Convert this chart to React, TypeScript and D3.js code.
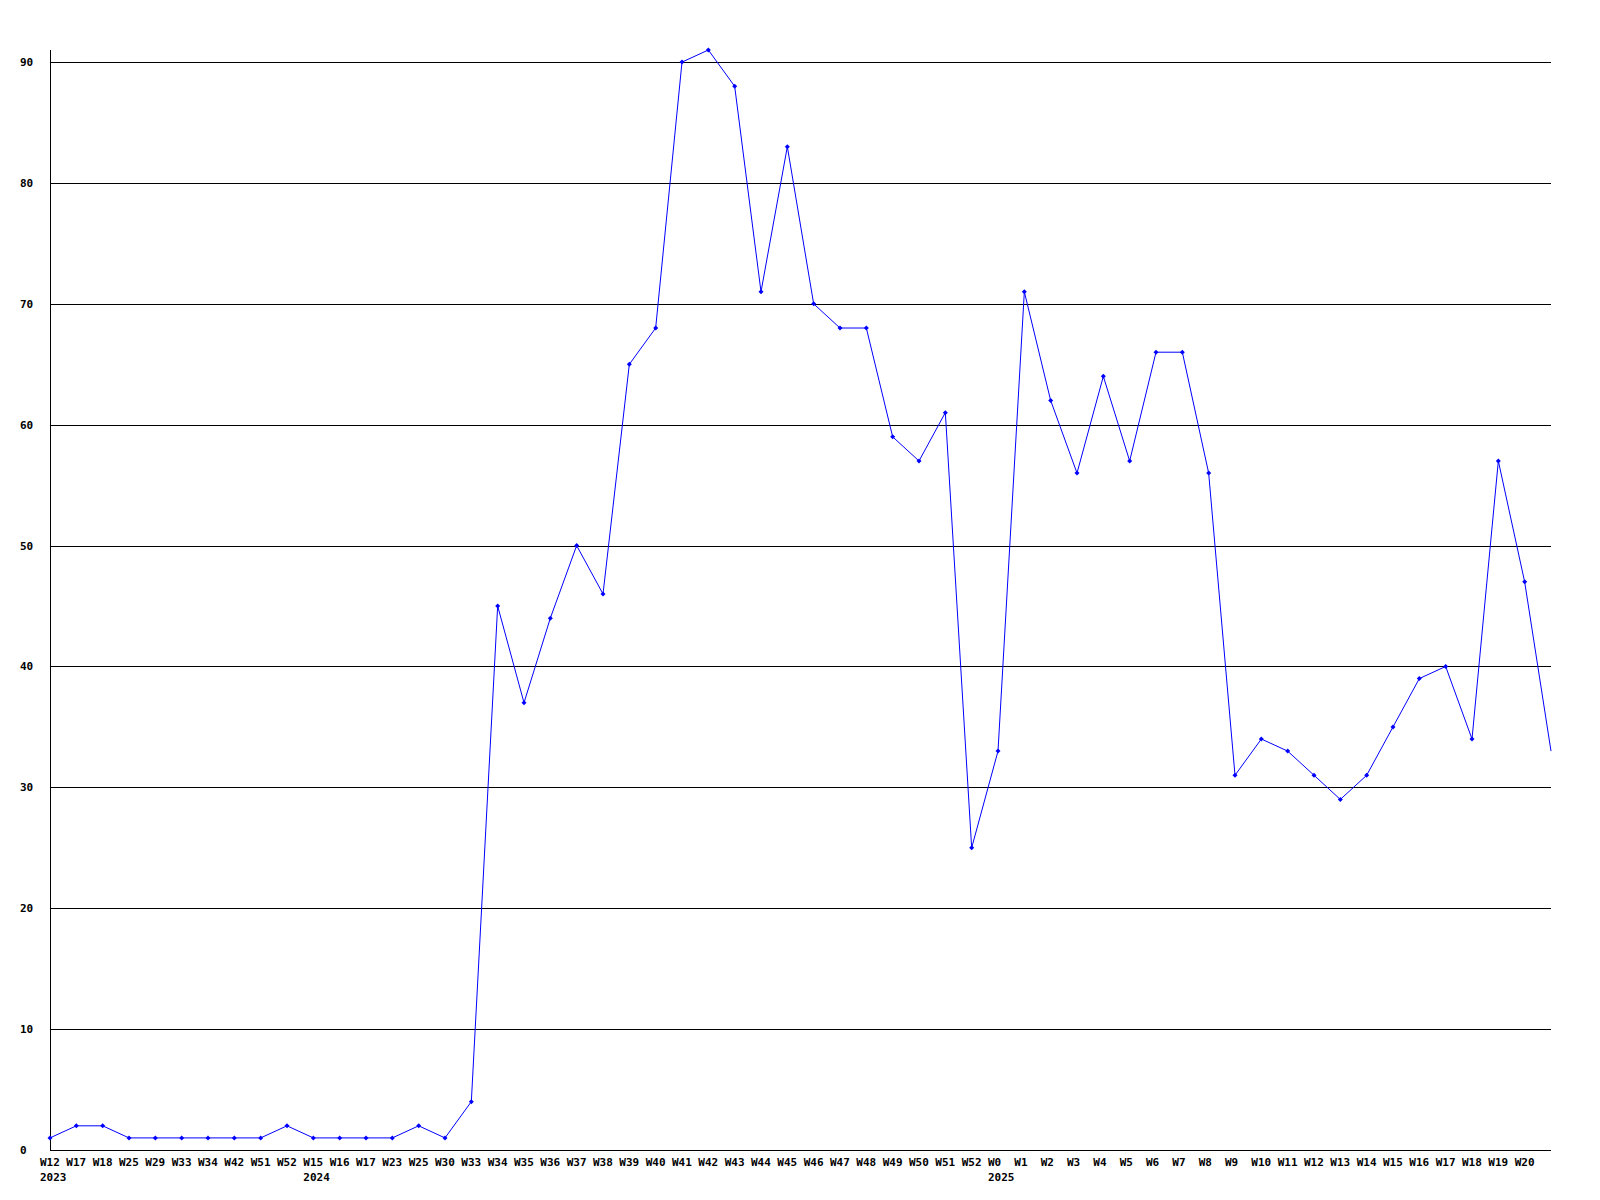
import React from "react";
import * as d3 from "d3";

const weekLabels: string[] = [
  "W12", "W17", "W18", "W25", "W29", "W33", "W34", "W42", "W51", "W52",
  "W15", "W16", "W17", "W23", "W25", "W30", "W33", "W34", "W35", "W36",
  "W37", "W38", "W39", "W40", "W41", "W42", "W43", "W44", "W45", "W46",
  "W47", "W48", "W49", "W50", "W51", "W52",
  "W0", "W1", "W2", "W3", "W4", "W5", "W6", "W7", "W8", "W9", "W10",
  "W11", "W12", "W13", "W14", "W15", "W16", "W17", "W18", "W19", "W20", "",
];

const yearLabels: { index: number; year: string }[] = [
  { index: 0, year: "2023" },
  { index: 10, year: "2024" },
  { index: 36, year: "2025" },
];

const values: number[] = [
  1, 2, 2, 1, 1, 1, 1, 1, 1, 2,
  1, 1, 1, 1, 2, 1, 4, 45, 37, 44,
  50, 46, 65, 68, 90, 91, 88, 71, 83, 70,
  68, 68, 59, 57, 61, 25,
  33, 71, 62, 56, 64, 57, 66, 66, 56, 31, 34,
  33, 31, 29, 31, 35, 39, 40, 34, 57, 47, 33,
];

const yTicks: number[] = [0, 10, 20, 30, 40, 50, 60, 70, 80, 90];

const W = 1600;
const H = 1200;
const left = 50;
const right = 1551;
const top = 50;
const bottom = 1150;
const font = "'DejaVu Sans Mono', 'Liberation Mono', monospace";

export default function App() {
  const x = d3.scaleLinear().domain([0, values.length - 1]).range([left, right]);
  const y = d3.scaleLinear().domain([0, 91]).range([bottom, top]);

  const line = d3
    .line<number>()
    .x((_, i) => x(i))
    .y((d) => y(d));

  const diamond = (cx: number, cy: number) =>
    `M${cx},${cy - 2.5}L${cx + 2.5},${cy}L${cx},${cy + 2.5}L${cx - 2.5},${cy}Z`;

  return (
    <svg
      width={W}
      height={H}
      style={{ position: "absolute", left: 0, top: 0, background: "#fff" }}
    >
      <rect x={0} y={0} width={W} height={H} fill="#fff" />
      {yTicks.map((t) => {
        const yy = Math.round(y(t)) + 0.5;
        return (
          <g key={t}>
            {t > 0 && (
              <line x1={left} x2={right} y1={yy} y2={yy} stroke="#000" strokeWidth={1} />
            )}
            <text
              x={20}
              y={yy}
              dy="0.35em"
              fontFamily={font}
              fontWeight="bold"
              fontSize={11}
              fill="#000"
            >
              {t}
            </text>
          </g>
        );
      })}
      <line x1={left + 0.5} x2={left + 0.5} y1={top} y2={bottom} stroke="#000" strokeWidth={1} />
      <line x1={left} x2={right} y1={bottom + 0.5} y2={bottom + 0.5} stroke="#000" strokeWidth={1} />
      <path d={line(values) || ""} fill="none" stroke="#0000ff" strokeWidth={1} />
      {values.map((v, i) =>
        i < values.length - 1 ? (
          <path key={i} d={diamond(x(i), y(v))} fill="#0000ff" />
        ) : null
      )}
      {weekLabels.map((lab, i) =>
        lab ? (
          <text
            key={i}
            x={x(i) - 10}
            y={1166}
            fontFamily={font}
            fontWeight="bold"
            fontSize={11}
            fill="#000"
          >
            {lab}
          </text>
        ) : null
      )}
      {yearLabels.map((yl) => (
        <text
          key={yl.year}
          x={x(yl.index) - 10}
          y={1181}
          fontFamily={font}
          fontWeight="bold"
          fontSize={11}
          fill="#000"
        >
          {yl.year}
        </text>
      ))}
    </svg>
  );
}
